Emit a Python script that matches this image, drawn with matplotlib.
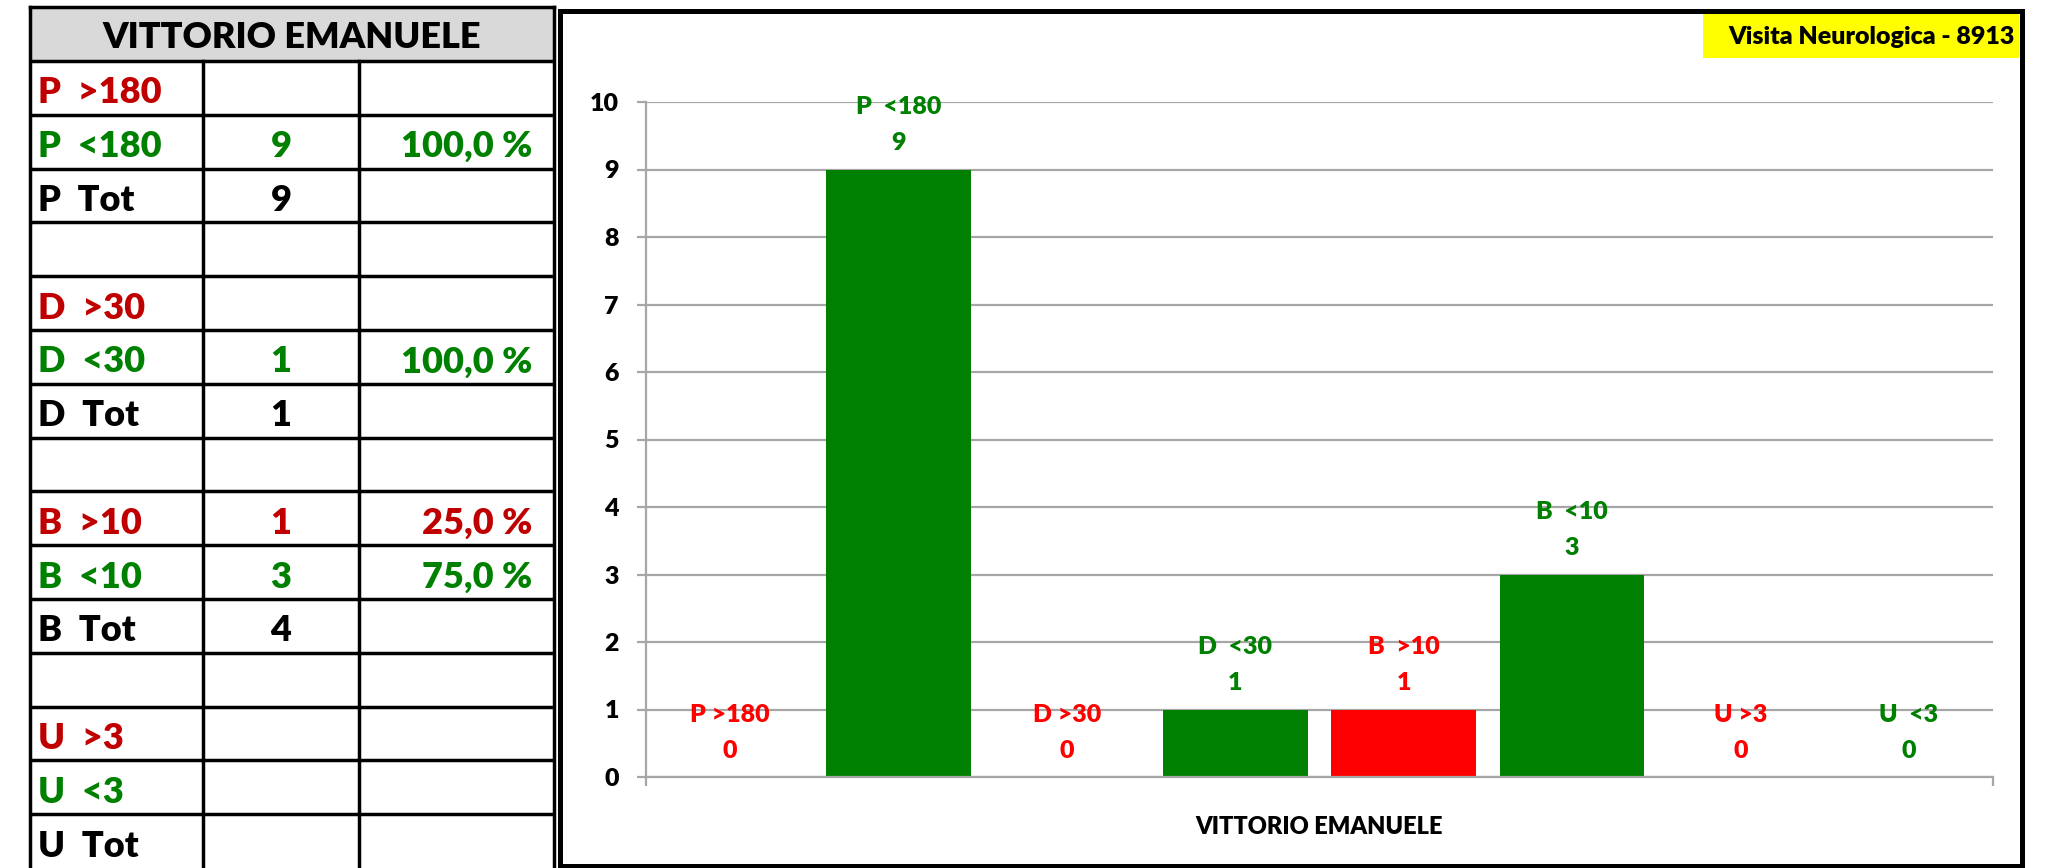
import matplotlib
matplotlib.use('Agg')
import matplotlib.pyplot as plt
from matplotlib.patches import Rectangle

plt.rcParams['font.family'] = ['Lato', 'DejaVu Sans']
W8 = 'heavy'
plt.rcParams['font.weight'] = W8

# --- dati ---
table_title = "VITTORIO EMANUELE"
row_labels = ['P  >180', 'P  <180', 'P  Tot', '',
              'D  >30', 'D  <30', 'D  Tot', '',
              'B  >10', 'B  <10', 'B  Tot', '',
              'U  >3', 'U  <3', 'U  Tot']
row_counts = ['', '9', '9', '', '', '1', '1', '', '1', '3', '4', '', '', '', '']
row_pcts = ['', '100,0 %', '', '', '', '100,0 %', '', '', '25,0 %', '75,0 %', '', '', '', '', '']

categories = ['P >180', 'P  <180', 'D >30', 'D  <30', 'B  >10', 'B  <10', 'U >3', 'U  <3']
values = [0, 9, 0, 1, 1, 3, 0, 0]
group_label = "VITTORIO EMANUELE"
badge = "Visita Neurologica - 8913"

RED_TXT = '#C00000'
RED = '#FF0000'
GREEN = '#008000'
GRID = '#A6A6A6'


def row_color(lab):
    if '>' in lab:
        return RED_TXT
    if '<' in lab:
        return GREEN
    return 'black'


W, H = 2048, 868
fig = plt.figure(figsize=(W / 100, H / 100), dpi=100)

# sfondo in coordinate pixel per tabella e cornice
bg = fig.add_axes([0, 0, 1, 1])
bg.set_xlim(0, W)
bg.set_ylim(H, 0)
bg.axis('off')

# --- tabella ---
tx0, tx1 = 30, 554
col1, col2 = 203, 359
ty0, hdr_bot = 7, 61
row_h = (H - hdr_bot) / len(row_labels)
tlw = 2.5
tfs = 26

bg.add_patch(Rectangle((tx0, ty0), tx1 - tx0, hdr_bot - ty0, facecolor='#D9D9D9', edgecolor='none'))
bg.text((tx0 + tx1) / 2, (ty0 + hdr_bot) / 2 + 4, table_title, ha='center', va='center',
        fontsize=tfs, fontweight=W8, color='black')

for i, lab in enumerate(row_labels):
    y0 = hdr_bot + i * row_h
    yc = y0 + row_h / 2 + 5
    c = row_color(lab)
    bg.text(tx0 + 8, yc, lab, ha='left', va='center', fontsize=tfs, fontweight=W8, color=c)
    bg.text((col1 + col2) / 2, yc, row_counts[i], ha='center', va='center', fontsize=tfs,
            fontweight=W8, color=c)
    bg.text(tx1 - 22, yc, row_pcts[i], ha='right', va='center', fontsize=tfs,
            fontweight=W8, color=c)
    bg.plot([tx0, tx1], [y0, y0], color='black', lw=tlw, solid_capstyle='butt')

bg.plot([tx0, tx1], [ty0, ty0], color='black', lw=tlw)
for x in (tx0, tx1):
    bg.plot([x, x], [ty0, H], color='black', lw=tlw)
for x in (col1, col2):
    bg.plot([x, x], [hdr_bot, H], color='black', lw=tlw)

# cornice del grafico
bg.add_patch(Rectangle((559.5, 11), 2022 - 559.5, 855, facecolor='none', edgecolor='black',
                       lw=3.6, joinstyle='miter'))

# etichetta gialla
bg.add_patch(Rectangle((1703, 14), 2019 - 1703, 44, facecolor='#FFFF00', edgecolor='none'))
bg.text(2015, 37, badge, ha='right', va='center', fontsize=18, fontweight=W8, color='black')

# --- grafico a barre ---
ax_l, ax_r, ax_b, ax_t = 646, 1993, 777, 102
ax = fig.add_axes([ax_l / W, (H - ax_b) / H, (ax_r - ax_l) / W, (ax_b - ax_t) / H])
ax.set_facecolor('none')

xs = range(len(categories))
bar_colors = [RED if '>' in c else GREEN for c in categories]
lab_colors = [RED if '>' in c else GREEN for c in categories]
ax.bar(xs, values, width=0.86, color=bar_colors, zorder=2)

for x, v, c, col in zip(xs, values, categories, lab_colors):
    ax.annotate(str(v), (x, v), xytext=(0, 19), textcoords='offset points', ha='center',
                va='center', fontsize=18, fontweight=W8, color=col, zorder=3)
    ax.annotate(c, (x, v), xytext=(0, 45), textcoords='offset points', ha='center',
                va='center', fontsize=18, fontweight=W8, color=col, zorder=3)

ax.set_xlim(-0.5, len(categories) - 0.5)
ax.set_ylim(0, 10)
ax.set_yticks(range(0, 11))
ax.yaxis.grid(True, color=GRID, lw=1.6, zorder=0)
ax.set_axisbelow(True)
ax.set_xticks([-0.5, len(categories) - 0.5])
ax.set_xticklabels([])
ax.tick_params(axis='x', length=6.5, width=1.6, color=GRID, direction='out')
ax.tick_params(axis='y', length=6.5, width=1.6, color=GRID, direction='out', pad=13,
               labelsize=18)
for t in ax.get_yticklabels():
    t.set_fontweight(W8)
for s in ('top', 'right'):
    ax.spines[s].set_visible(False)
for s in ('left', 'bottom'):
    ax.spines[s].set_color(GRID)
    ax.spines[s].set_linewidth(1.6)

ax.text(0.5, -(827 - ax_b) / (ax_b - ax_t), group_label, transform=ax.transAxes,
        ha='center', va='center', fontsize=17, fontweight=W8, color='black')

fig.savefig('out.png', dpi=100)
plt.close(fig)
